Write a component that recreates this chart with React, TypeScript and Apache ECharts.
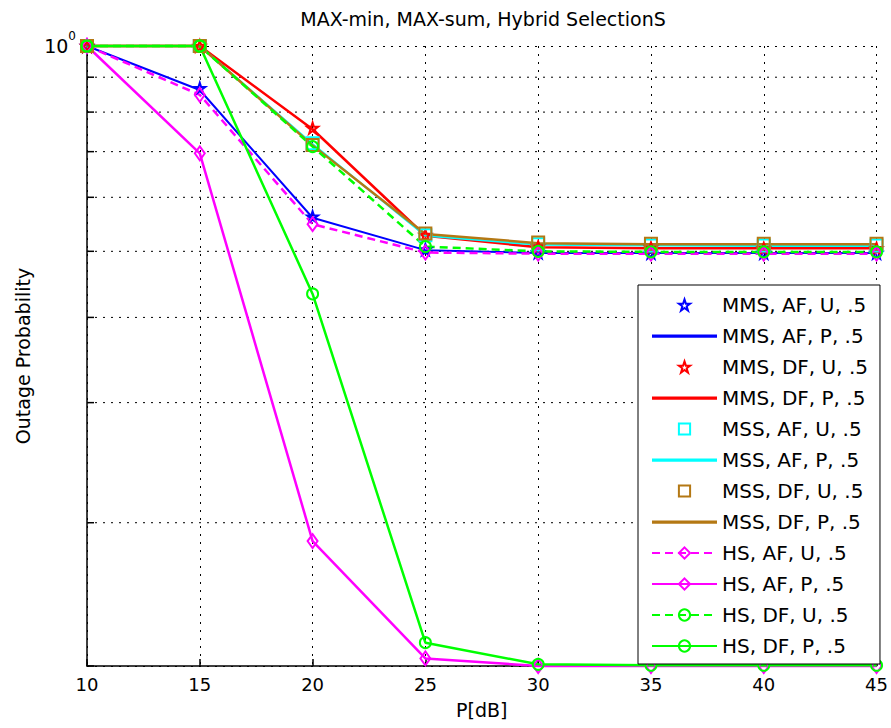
import { useEffect, useRef } from 'react';
import * as echarts from 'echarts';

// ---------- data ----------
const xValues = [10, 15, 20, 25, 30, 35, 40, 45];
const X_MIN = 10;
const X_MAX = 45;
const Y_MIN = 0.1233;
const Y_MAX = 1;
const yMinorGrid = [0.9, 0.8, 0.7, 0.6, 0.5, 0.4, 0.3, 0.2];

const mmsAfU = [1, 0.867, 0.562, 0.503, 0.498, 0.497, 0.497, 0.497];
const mmsAfP = [1, 0.862, 0.56, 0.502, 0.497, 0.497, 0.497, 0.497];
const mmsDfU = [1, 1, 0.758, 0.528, 0.508, 0.506, 0.505, 0.505];
const mmsDfP = [1, 1, 0.755, 0.527, 0.507, 0.505, 0.505, 0.505];
const mssAfU = [1, 1, 0.72, 0.528, 0.512, 0.51, 0.51, 0.51];
const mssAfP = [1, 1, 0.718, 0.527, 0.511, 0.51, 0.509, 0.509];
const mssDfU = [1, 1, 0.716, 0.531, 0.515, 0.513, 0.513, 0.513];
const mssDfP = [1, 1, 0.715, 0.53, 0.514, 0.512, 0.512, 0.512];
const hsAfU = [1, 0.848, 0.548, 0.498, 0.496, 0.496, 0.496, 0.496];
const hsAfP = [1, 0.696, 0.188, 0.1265, 0.1233, 0.1233, 0.1233, 0.1233];
const hsDfU = [1, 1, 0.712, 0.508, 0.5, 0.499, 0.499, 0.499];
const hsDfP = [1, 1, 0.433, 0.1334, 0.124, 0.1236, 0.1236, 0.1236];

const FONT = 'DejaVu Sans';
const BLUE = '#0000ff';
const RED = '#ff0000';
const CYAN = '#00ffff';
const BROWN = '#b47814';
const MAGENTA = '#ff00ff';
const GREEN = '#00ff00';
const STAR =
  'path://M50,2 L61.8,36.2 L97.6,36.2 L68.6,57.4 L79.6,91.6 L50,70.4 L20.4,91.6 L31.4,57.4 L2.4,36.2 L38.2,36.2 Z';
const LINE_ICON = 'path://M0,0H60V3H0Z';

type Kind = 'marker' | 'line' | 'both';
interface Spec {
  name: string;
  values: number[];
  color: string;
  kind: Kind;
  symbol?: string;
  symbolSize?: number | number[];
  dashed?: boolean;
  width?: number;
}

const specs: Spec[] = [
  { name: 'MMS, AF, U, .5', values: mmsAfU, color: BLUE, kind: 'marker', symbol: STAR, symbolSize: 11 },
  { name: 'MMS, AF, P, .5', values: mmsAfP, color: BLUE, kind: 'line', width: 2 },
  { name: 'MMS, DF, U, .5', values: mmsDfU, color: RED, kind: 'marker', symbol: STAR, symbolSize: 11 },
  { name: 'MMS, DF, P, .5', values: mmsDfP, color: RED, kind: 'line', width: 2.5 },
  { name: 'MSS, AF, U, .5', values: mssAfU, color: CYAN, kind: 'marker', symbol: 'rect', symbolSize: 12 },
  { name: 'MSS, AF, P, .5', values: mssAfP, color: CYAN, kind: 'line', width: 2 },
  { name: 'MSS, DF, U, .5', values: mssDfU, color: BROWN, kind: 'marker', symbol: 'rect', symbolSize: 12 },
  { name: 'MSS, DF, P, .5', values: mssDfP, color: BROWN, kind: 'line', width: 2.5 },
  { name: 'HS, AF, U, .5', values: hsAfU, color: MAGENTA, kind: 'both', symbol: 'diamond', symbolSize: [10, 14], dashed: true, width: 2.5 },
  { name: 'HS, AF, P, .5', values: hsAfP, color: MAGENTA, kind: 'both', symbol: 'diamond', symbolSize: [10, 14], width: 2.5 },
  { name: 'HS, DF, U, .5', values: hsDfU, color: GREEN, kind: 'both', symbol: 'circle', symbolSize: 11, dashed: true, width: 2.5 },
  { name: 'HS, DF, P, .5', values: hsDfP, color: GREEN, kind: 'both', symbol: 'circle', symbolSize: 11, width: 2.5 },
];

function buildSeries(s: Spec) {
  const data = xValues.map((x, i) => [x, s.values[i]]);
  const base: any = {
    type: 'line',
    name: s.name,
    data,
    clip: false,
    silent: true,
    emphasis: { disabled: true },
  };
  if (s.kind === 'line') {
    return {
      ...base,
      symbol: 'none',
      showSymbol: false,
      itemStyle: { color: s.color },
      lineStyle: { color: s.color, width: s.width ?? 2 },
    };
  }
  if (s.kind === 'marker') {
    return {
      ...base,
      symbol: s.symbol,
      symbolSize: s.symbolSize,
      showSymbol: true,
      lineStyle: { color: s.color, width: 0 },
      itemStyle: { color: 'rgba(0,0,0,0)', borderColor: s.color, borderWidth: 2 },
    };
  }
  return {
    ...base,
    symbol: s.symbol,
    symbolSize: s.symbolSize,
    showSymbol: true,
    lineStyle: { color: s.color, width: s.width ?? 2, type: s.dashed ? [8, 5] : 'solid' },
    itemStyle: { color: 'rgba(0,0,0,0)', borderColor: s.color, borderWidth: 2 },
  };
}

const DOT: number[] = [2, 6];

const gridSeries = {
  type: 'custom',
  name: '__ygrid',
  silent: true,
  clip: false,
  z: 1,
  data: yMinorGrid.map((v) => [X_MIN, v]),
  encode: { x: 0, y: 1 },
  renderItem: (_params: any, api: any) => {
    const v = api.value(1);
    const p0 = api.coord([X_MIN, v]);
    const p1 = api.coord([X_MAX, v]);
    return {
      type: 'group',
      children: [
        {
          type: 'line',
          shape: { x1: p0[0], y1: p0[1], x2: p1[0], y2: p1[1] },
          style: { stroke: '#000', lineWidth: 1, lineDash: DOT },
        },
        {
          type: 'line',
          shape: { x1: p0[0], y1: p0[1], x2: p0[0] + 7, y2: p0[1] },
          style: { stroke: '#000', lineWidth: 1.5 },
        },
      ],
    };
  },
};

const option: any = {
  animation: false,
  backgroundColor: '#fff',
  title: {
    text: 'MAX-min, MAX-sum, Hybrid SelectionS',
    left: 478,
    textAlign: 'center',
    top: 4,
    textStyle: { fontFamily: FONT, fontSize: 19, fontWeight: 'normal', color: '#000' },
  },
  grid: { left: 87, right: 12, top: 46, bottom: 62, containLabel: false },
  legend: {
    orient: 'vertical',
    left: 638,
    top: 285,
    itemWidth: 65,
    itemHeight: 14,
    itemGap: 9,
    padding: [9, 12, 7, 13],
    backgroundColor: '#fff',
    borderColor: '#000',
    borderWidth: 1,
    borderRadius: 0,
    selectedMode: false,
    textStyle: { fontFamily: FONT, fontSize: 20, color: '#000', lineHeight: 22 },
    data: specs.map((s) => (s.kind === 'line' ? { name: s.name, icon: LINE_ICON } : { name: s.name })),
  },
  xAxis: {
    type: 'value',
    min: X_MIN,
    max: X_MAX,
    interval: 5,
    axisLine: { show: true, onZero: false, lineStyle: { color: '#000', width: 1.5 } },
    axisTick: { show: true, inside: true, length: 7, lineStyle: { color: '#000', width: 1.5 } },
    axisLabel: { fontFamily: FONT, fontSize: 18, color: '#000', margin: 9 },
    splitLine: { show: true, lineStyle: { color: '#000', width: 1, type: DOT } },
    name: 'P[dB]',
    nameLocation: 'middle',
    nameGap: 34,
    nameTextStyle: { fontFamily: FONT, fontSize: 19, color: '#000' },
  },
  yAxis: {
    type: 'log',
    logBase: 10,
    min: Y_MIN,
    max: Y_MAX,
    axisLine: { show: true, onZero: false, lineStyle: { color: '#000', width: 1.5 } },
    axisTick: { show: true, inside: true, length: 7, lineStyle: { color: '#000', width: 1.5 } },
    axisLabel: {
      margin: 11,
      formatter: (v: number) => (Math.abs(v - 1) < 1e-6 ? '{b|10}{s|0}' : ''),
      rich: {
        b: { fontFamily: FONT, fontSize: 19, color: '#000', lineHeight: 19 },
        s: { fontFamily: FONT, fontSize: 12, color: '#000', lineHeight: 12, padding: [0, 0, 20, 0] },
      },
    },
    splitLine: { show: true, lineStyle: { color: '#000', width: 1, type: DOT } },
    name: 'Outage Probability',
    nameLocation: 'middle',
    nameGap: 55,
    nameTextStyle: { fontFamily: FONT, fontSize: 19, color: '#000' },
  },
  series: [gridSeries, ...specs.map(buildSeries)],
};

export default function App() {
  const ref = useRef<HTMLDivElement>(null);
  useEffect(() => {
    if (!ref.current) return;
    const chart = echarts.init(ref.current, null, { renderer: 'svg' });
    chart.setOption(option);
    return () => chart.dispose();
  }, []);
  return (
    <div
      ref={ref}
      style={{ position: 'fixed', left: 0, top: 0, width: 891, height: 728, background: '#fff' }}
    />
  );
}
